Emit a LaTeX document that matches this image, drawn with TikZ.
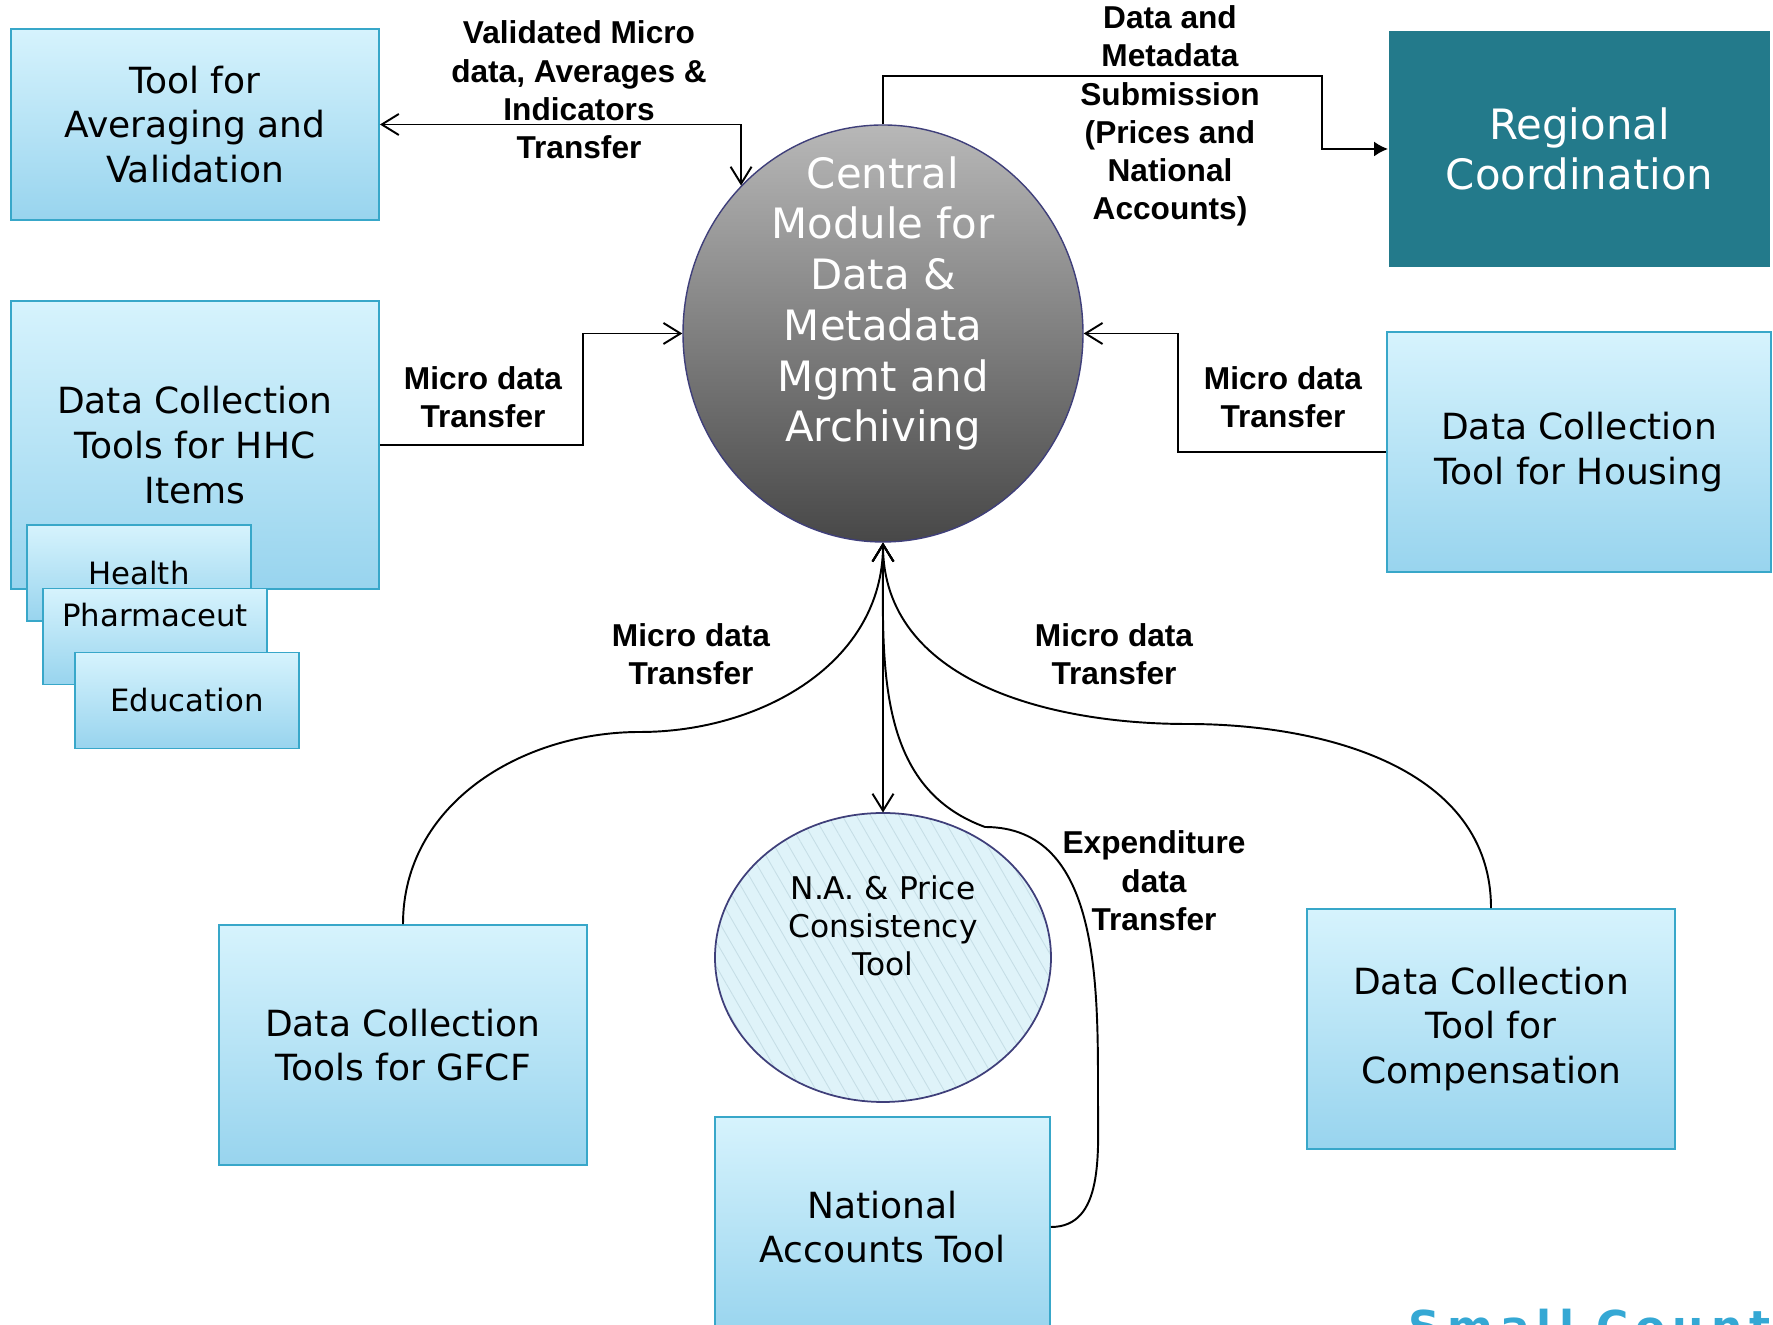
\documentclass[tikz,border=0pt]{standalone}
\usepackage{fontspec}
\setmainfont{DejaVu Sans}
\newfontfamily\lblfont{Liberation Sans}
\newfontfamily\markfont[LetterSpace=16]{DejaVu Sans}
\usetikzlibrary{shapes.geometric, positioning, arrows.meta, patterns.meta}

\definecolor{boxtop}{HTML}{D6F3FD}
\definecolor{boxbot}{HTML}{98D4EE}
\definecolor{boxline}{HTML}{38A7C9}
\definecolor{regteal}{HTML}{237A8B}
\definecolor{rimblue}{HTML}{3F3F7A}
\definecolor{nafill}{HTML}{DFF3F9}
\definecolor{hatch}{HTML}{C6DEE6}
\definecolor{watermark}{HTML}{35A8D4}

\begin{document}
\begin{tikzpicture}[
    >={Straight Barb[length=3.4mm,width=4.2mm]},
    line width=1.1pt,
    tool/.style={rectangle, draw=boxline, top color=boxtop, bottom color=boxbot,
      align=center, minimum width=7.36cm, minimum height=4.8cm,
      font=\fontsize{20.5}{25.5}\selectfont},
    subtool/.style={tool, minimum width=4.48cm, minimum height=1.92cm,
      font=\fontsize{17.5}{21}\selectfont},
    flow/.style={align=center, font=\lblfont\bfseries\fontsize{18}{21.8}\selectfont},
    on grid]

  \useasboundingbox (0,0) rectangle (35.46,26.5);

  \node[ellipse, draw=rimblue, line width=0.8pt, top color=black!28, bottom color=black!72,
        minimum width=8cm, minimum height=8.34cm] (cm) at (17.66,19.83) {};
  \node[align=center, text=white, font=\fontsize{23.8}{28.9}\selectfont] (cmtext)
        at ([yshift=0.6cm]cm.center) {Central\\Module for\\Data \&\\Metadata\\Mgmt and\\Archiving};

  \node[tool, minimum height=3.82cm] (avg) at (3.9,24.01) {Tool for\\Averaging and\\Validation};
  \node[tool, minimum height=5.76cm] (hhc) at (3.9,17.6) {Data Collection\\Tools for HHC\\Items};
  \node[subtool] (health) [below left=2.56cm and 1.12cm of hhc] {Health};
  \node[subtool, text height=0.47cm, text depth=0.87cm] (pharm) [below right=1.27cm and 0.32cm of health] {Pharmaceut};
  \node[subtool] (educ) [below right=1.28cm and 0.64cm of pharm] {Education};

  \node[rectangle, fill=regteal, text=white, align=center, minimum width=7.62cm, minimum height=4.72cm,
        font=\fontsize{23.8}{28.9}\selectfont] (reg) at (31.59,23.52) {Regional\\Coordination};
  \node[tool, minimum width=7.68cm] (house) at (31.58,17.46) {Data Collection\\Tool for Housing};
  \node[tool] (gfcf) at (8.06,5.6) {Data Collection\\Tools for GFCF};
  \node[tool] (comp) at (29.82,5.92) {Data Collection\\Tool for\\Compensation};
  \node[tool, minimum width=6.7cm, minimum height=4.4cm] (nat) at (17.65,1.96) {National\\Accounts Tool};

  \node[ellipse, draw=rimblue, line width=1pt, preaction={fill=nafill},
        pattern={Lines[angle=-60, distance=7pt, line width=0.5pt]}, pattern color=hatch,
        minimum width=6.72cm, minimum height=5.78cm] (na) at (17.66,7.35) {};
  \node[align=center, font=\fontsize{17.8}{21.8}\selectfont] (natext)
        at ([yshift=0.63cm]na.center) {N.A. \& Price\\Consistency\\Tool};

  \node[flow] (lvalid) at (11.58,24.70) {Validated Micro\\data, Averages \&\\Indicators\\Transfer};
  \node[flow] (lsubmit) at (23.40,24.18) {Data and\\Metadata\\Submission\\(Prices and\\National\\Accounts)};
  \node[flow] (lhhc) at (9.66,18.56) {Micro data\\Transfer};
  \node[flow] (lhouse) at (25.66,18.56) {Micro data\\Transfer};
  \node[flow] (lgfcf) at (13.82,13.42) {Micro data\\Transfer};
  \node[flow] (lcomp) at (22.28,13.42) {Micro data\\Transfer};
  \node[flow] (lexp) at (23.08,8.88) {Expenditure\\data\\Transfer};

  \draw[<->] (cm.north west) |- (avg.east);
  \draw[->] (hhc.east) -- ++(4.06,0) |- (cm.west);
  \draw[->] (house.west) -- ++(-4.16,0) |- (cm.east);
  \draw[-{Latex[length=2.8mm,width=3mm]}] (cm.north) -- ++(0,0.96) -| ([xshift=-1.32cm]reg.west) -- (reg.west);
  \draw[->] (gfcf.north) to[out=90,in=180] (12.8,11.86) to[out=0,in=-90] (cm.south);
  \draw[->] (comp.north) to[out=90,in=0] (23.74,12.02) to[out=180,in=-90] (cm.south);
  \draw[->] (nat.east) to[out=0,in=-90] (21.96,4.5) to[out=90,in=0] (19.7,9.96)
            to[out=160,in=-90] (cm.south);
  \draw[<->] (cm.south) -- (na.north);

  \node[anchor=base west, text=watermark, font=\markfont\bfseries\fontsize{25}{29}\selectfont] (mark)
        at (28.04,-0.36) {Small Count};
\end{tikzpicture}
\end{document}
